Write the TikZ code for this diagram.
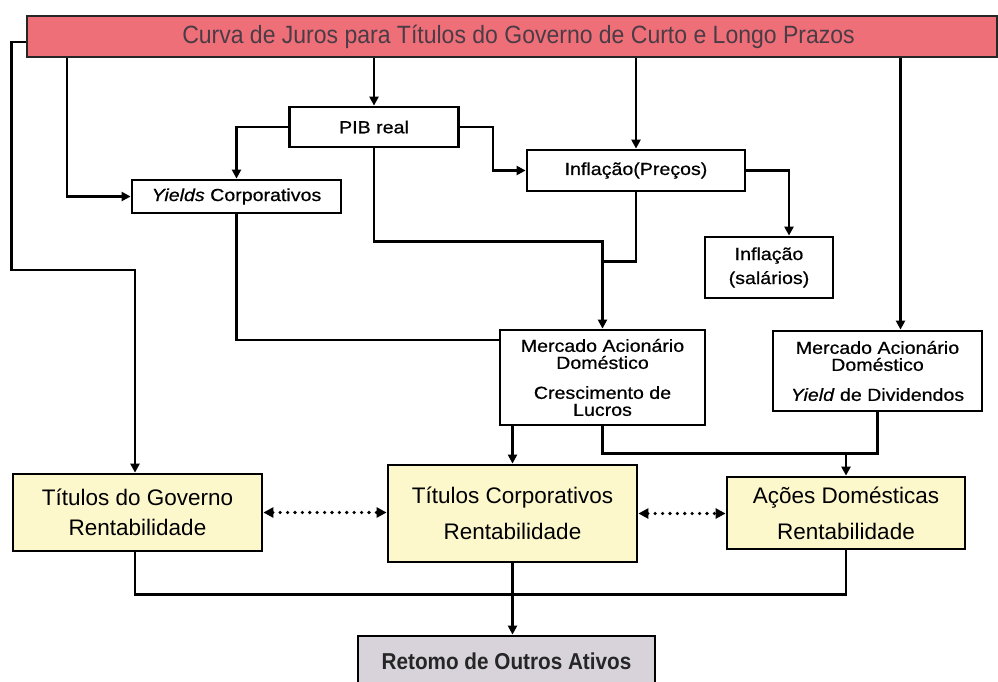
\documentclass[tikz,border=0pt]{standalone}
\usepackage{fontspec}
\setmainfont{Liberation Sans}
\newfontfamily\boxfont[FakeStretch=1.12, FakeBold=0.6]{Liberation Sans}
\newfontfamily\titlefont[FakeStretch=0.92]{Liberation Sans}
\newfontfamily\retfont[FakeStretch=0.9]{Liberation Sans}
\usetikzlibrary{arrows.meta,calc}
\definecolor{barred}{HTML}{EF6F78}
\definecolor{titletext}{HTML}{4A3C46}
\definecolor{paleyellow}{HTML}{FCF8CC}
\definecolor{palegray}{HTML}{D8D3DB}
\newcommand{\fsz}[2]{\fontsize{#1}{#2}\selectfont}
\begin{document}
\begin{tikzpicture}[x=1pt,y=-1pt,
  box/.style={draw=black, line width=2.8pt, fill=white, inner sep=0pt, align=center, text=black},
  ybox/.style={box, fill=paleyellow},
  bar/.style={draw=black!85, line width=2.8pt, fill=barred, inner sep=0pt, text=titletext},
  arr/.style={line width=2.6pt, -{Triangle[length=9pt,width=9pt]}},
  conn/.style={line width=2.6pt},
  dotarr/.style={line width=3.6pt, dash pattern=on 0pt off 7.4pt, line cap=round,
    {Triangle[length=10pt,width=10pt]}-{Triangle[length=10pt,width=10pt]}}
]
\useasboundingbox (0,0) rectangle (998,681);

% nodes
\node[bar, minimum width=970, minimum height=41, font=\titlefont\fsz{25}{25}] (top) at (512,36.5)
  {\hspace*{13pt}Curva de Juros para Títulos do Governo de Curto e Longo Prazos};
\node[box, minimum width=169, minimum height=40, font=\boxfont\fsz{17.5}{17.5}] (pib) at (374,127) {PIB real};
\node[box, minimum width=209, minimum height=33, font=\boxfont\fsz{17.5}{17.5}] (yields) at (236.5,196.5) {\textit{Yields} Corporativos};
\node[box, minimum width=218, minimum height=41, font=\boxfont\fsz{17.5}{17.5}] (infp) at (636,170.5) {Inflação(Preços)};
\node[box, minimum width=128, minimum height=61, font=\boxfont\fsz{17.5}{24}] (infs) at (769,267.5) {Inflação\\(salários)};
\node[box, minimum width=205, minimum height=95, font=\boxfont\fsz{17.5}{17}] (merc1) at (602.5,377.5)
  {Mercado Acionário\\Doméstico\\[13pt]Crescimento de\\Lucros};
\node[box, minimum width=209, minimum height=80, font=\boxfont\fsz{17.5}{17}] (merc2) at (877.5,371)
  {Mercado Acionário\\Doméstico\\[13pt]\textit{Yield} de Dividendos};
\node[ybox, minimum width=249, minimum height=77, font=\fsz{22.5}{30}] (gov) at (137.5,512.5)
  {Títulos do Governo\\Rentabilidade};
\node[ybox, minimum width=249, minimum height=97, font=\fsz{22.5}{36}] (corp) at (512.5,513.5)
  {Títulos Corporativos\\Rentabilidade};
\node[ybox, minimum width=238, minimum height=72, font=\fsz{22.5}{36}] (acoes) at (846,513)
  {Ações Domésticas\\Rentabilidade};
\node[box, fill=palegray, minimum width=297, minimum height=54, font=\retfont\bfseries\fsz{23}{23}, text=black!85] (ret) at (506.5,663)
  {\raisebox{4pt}{Retomo de Outros Ativos}};

% helper coordinates
\coordinate (c67) at (67,0);
\coordinate (r452) at (0,452);

% connectors
\draw[arr] ([yshift=-5.5pt]top.west) -- ++(-14,0) -- ++(0,228) -| ([xshift=-2.5pt]gov.north);
\draw[arr] (c67 |- top.south) -- (c67 |- yields.west) -- (yields.west);
\draw[arr] (pib.north |- top.south) -- (pib.north);
\draw[arr] (pib.west) -| (yields.north);
\draw[arr] (pib.east) -- ++(33,0) |- (infp.west);
\draw[arr] (infp.north |- top.south) -- (infp.north);
\draw[arr] (infp.east) -| ([xshift=20pt]infs.north);
\draw[arr] ([xshift=23pt]merc2.north |- top.south) -- ([xshift=23pt]merc2.north);
\draw[conn] (yields.south) |- ([yshift=37.5pt]merc1.west);
\draw[arr] (pib.south) -- ++(0,93) -| (merc1.north);
\draw[conn] (infp.south) |- ++(-34,69);
\draw[arr] (corp.north |- merc1.south) -- (corp.north);
\draw[conn] (merc1.south) -- ++(0,27) -| (merc2.south);
\draw[arr] (acoes.north |- r452) -- (acoes.north);
\draw[dotarr] (gov.east) -- (gov.east -| corp.west);
\draw[dotarr] (corp.east) -- (corp.east -| acoes.west);
\draw[conn] ([xshift=-2.5pt]gov.south) -- ++(0,42) -| (acoes.south);
\draw[arr] (corp.south) -- (corp.south |- ret.north);
\end{tikzpicture}
\end{document}
